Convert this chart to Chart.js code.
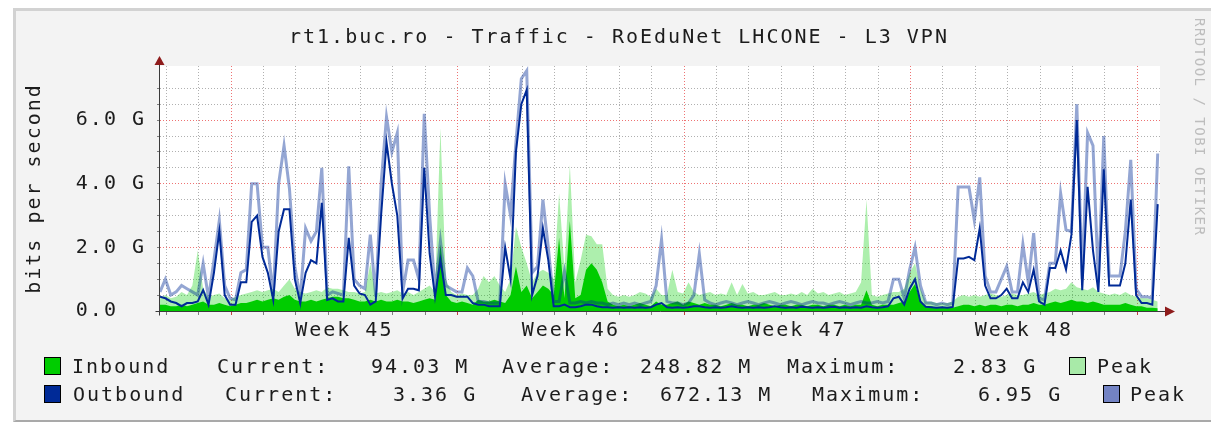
<!DOCTYPE html>
<html>
<head>
<meta charset="utf-8">
<style>
  body { margin: 0; background: #ffffff; width: 1211px; height: 422px; overflow: hidden; position: relative; }
  #frame { position: absolute; left: 13px; top: 8px; width: 1200px; height: 409px;
           background: #f3f3f3; border-left: 3px solid #d2d2d2; border-top: 3px solid #d2d2d2;
           border-bottom: 2px solid #a9a9a9; }
  #c { position: absolute; left: 0; top: 0; }
  .txt { position: absolute; font: 20px "DejaVu Sans Mono", monospace; letter-spacing: 2px;
         color: #1c1c1c; white-space: pre; line-height: 20px; }
  .sw { position: absolute; width: 15px; height: 16px; border: 1px solid #000; }
  #wm { position: absolute; left: 1192px; top: 18px; writing-mode: vertical-rl;
        font: 14px "DejaVu Sans Mono", monospace; letter-spacing: 1.5px; color: #bdbdbd; white-space: pre; }
</style>
</head>
<body>
<div id="frame"></div>
<canvas id="c" width="1211" height="422"></canvas>

<div class="txt" style="left:289px; top:26px;">rt1.buc.ro - Traffic - RoEduNet LHCONE - L3 VPN</div>

<div class="sw" style="left:44px; top:357px; background:#00cc00;"></div>
<div class="txt" style="left:72px; top:356px;">Inbound</div>
<div class="txt" style="left:217px; top:356px;">Current:</div>
<div class="txt" style="left:371px; top:356px;">94.03 M</div>
<div class="txt" style="left:502px; top:356px;">Average:</div>
<div class="txt" style="left:640px; top:356px;">248.82 M</div>
<div class="txt" style="left:787px; top:356px;">Maximum:</div>
<div class="txt" style="left:953px; top:356px;">2.83 G</div>
<div class="sw" style="left:1069px; top:357px; background:#a8eaa8;"></div>
<div class="txt" style="left:1097px; top:356px;">Peak</div>

<div class="sw" style="left:44px; top:385px; background:#002a97;"></div>
<div class="txt" style="left:73px; top:384px;">Outbound</div>
<div class="txt" style="left:225px; top:384px;">Current:</div>
<div class="txt" style="left:393px; top:384px;">3.36 G</div>
<div class="txt" style="left:521px; top:384px;">Average:</div>
<div class="txt" style="left:660px; top:384px;">672.13 M</div>
<div class="txt" style="left:812px; top:384px;">Maximum:</div>
<div class="txt" style="left:978px; top:384px;">6.95 G</div>
<div class="sw" style="left:1103px; top:385px; background:#7383c4;"></div>
<div class="txt" style="left:1130px; top:384px;">Peak</div>

<div id="wm">RRDTOOL / TOBI OETIKER</div>

<script src="https://cdn.jsdelivr.net/npm/chart.js@4.4.1/dist/chart.umd.min.js"></script>
<script>
// one sample every 4 hours, values in Gbit/s
const STEP_HOURS = 4;
const SPAN_HOURS = 741.7;

const inboundAvg = [
  0.2, 0.2, 0.15, 0.15, 0.2, 0.15, 0.2, 0.25, 0.3, 0.2,
  0.2, 0.25, 0.2, 0.15, 0.2, 0.25, 0.25, 0.3, 0.35, 0.3,
  0.35, 0.4, 0.35, 0.45, 0.5, 0.35, 0.3, 0.3, 0.35, 0.3,
  0.35, 0.4, 0.45, 0.45, 0.4, 0.4, 0.35, 0.3, 0.3, 0.35,
  0.3, 0.35, 0.3, 0.3, 0.35, 0.3, 0.3, 0.25, 0.3, 0.35,
  0.4, 0.35, 2.1, 0.5, 0.3, 0.25, 0.3, 0.25, 0.2, 0.35,
  0.3, 0.3, 0.35, 0.3, 0.25, 0.5, 1.4, 0.6, 0.8, 0.4,
  0.6, 0.8, 0.7, 0.5, 2.3, 0.4, 2.83, 0.4, 0.5, 1.3,
  1.5, 1.3, 0.9, 0.3, 0.2, 0.15, 0.2, 0.15, 0.2, 0.25,
  0.2, 0.15, 0.3, 0.2, 0.2, 0.25, 0.3, 0.2, 0.3, 0.25,
  0.2, 0.25, 0.2, 0.2, 0.15, 0.2, 0.25, 0.2, 0.2, 0.15,
  0.2, 0.2, 0.25, 0.2, 0.15, 0.2, 0.2, 0.15, 0.2, 0.2,
  0.15, 0.2, 0.2, 0.15, 0.2, 0.2, 0.15, 0.2, 0.15, 0.2,
  0.2, 0.65, 0.2, 0.15, 0.2, 0.2, 0.2, 0.25, 0.3, 0.6,
  0.85, 0.3, 0.15, 0.15, 0.1, 0.1, 0.1, 0.1, 0.15, 0.2,
  0.2, 0.15, 0.2, 0.15, 0.2, 0.2, 0.15, 0.2, 0.2, 0.15,
  0.2, 0.2, 0.25, 0.2, 0.2, 0.25, 0.3, 0.25, 0.3, 0.35,
  0.3, 0.3, 0.25, 0.3, 0.25, 0.2, 0.2, 0.2, 0.2, 0.25,
  0.2, 0.15, 0.15, 0.1, 0.1, 0.09
];

const inboundPeak = [
  0.4, 0.5, 0.4, 0.45, 0.6, 0.5, 0.8, 1.9, 0.7, 0.45,
  0.5, 0.55, 0.4, 0.35, 0.45, 0.5, 0.55, 0.6, 0.65, 0.6,
  0.65, 0.7, 0.6, 0.8, 1.0, 0.7, 0.6, 0.55, 0.6, 0.65,
  0.6, 0.75, 0.7, 0.7, 0.65, 0.6, 0.6, 0.55, 0.6, 1.5,
  0.55, 0.6, 0.55, 0.6, 0.65, 0.55, 0.6, 0.5, 0.6, 0.7,
  0.8, 0.6, 5.75, 1.0, 0.6, 0.5, 0.55, 0.5, 0.5, 0.7,
  1.1, 0.9, 1.1, 0.8, 0.6, 1.0, 2.65, 2.0, 1.5, 0.9,
  1.2, 1.3, 1.2, 1.0, 3.7, 1.3, 4.6, 0.9, 1.6, 2.4,
  2.35, 2.1, 2.1, 0.7, 0.5, 0.45, 0.5, 0.45, 0.5, 0.6,
  0.55, 0.45, 0.7, 0.5, 0.5, 1.3, 0.6, 0.55, 0.9, 0.6,
  0.5, 0.55, 0.6, 0.5, 0.55, 0.5, 0.9, 0.5, 0.85, 0.55,
  0.6, 0.5, 0.5, 0.55, 0.6, 0.5, 0.5, 0.55, 0.5, 0.6,
  0.5, 0.7, 0.55, 0.6, 0.5, 0.55, 0.6, 0.5, 0.55, 0.6,
  0.9, 3.5, 0.5, 0.45, 0.5, 0.55, 0.6, 0.6, 0.7, 1.2,
  1.5, 0.7, 0.3, 0.3, 0.25, 0.25, 0.25, 0.3, 0.45, 0.5,
  0.45, 0.5, 0.45, 0.5, 0.55, 0.5, 0.45, 0.5, 0.55, 0.5,
  0.5, 0.55, 0.6, 0.5, 0.55, 0.6, 0.7, 0.65, 0.7, 0.9,
  0.75, 0.7, 0.65, 0.75, 0.6, 0.55, 0.5, 0.55, 0.5, 0.6,
  0.5, 0.45, 0.4, 0.4, 0.35, 0.3
];

const outboundAvg = [
  0.45, 0.4, 0.3, 0.25, 0.15, 0.25, 0.25, 0.3, 0.66, 0.2,
  1.2, 2.5, 0.5, 0.2, 0.2, 0.9, 0.9, 2.8, 3.0, 1.7,
  1.2, 0.35, 2.5, 3.2, 3.2, 1.0, 0.25, 1.2, 1.6, 1.5,
  3.4, 0.35, 0.4, 0.3, 0.3, 2.3, 0.8, 0.55, 0.5, 0.2,
  0.3, 3.0, 5.3, 4.0, 3.0, 0.4, 0.7, 0.7, 0.65, 4.5,
  1.8, 0.45, 1.6, 0.5, 0.5, 0.45, 0.45, 0.45, 0.25, 0.2,
  0.2, 0.15, 0.15, 0.15, 2.0, 1.0, 5.0, 6.5, 6.95, 0.5,
  1.1, 2.6, 1.6, 0.15, 0.15, 0.2, 0.12, 0.12, 0.15, 0.2,
  0.2, 0.15, 0.12, 0.12, 0.1, 0.12, 0.1, 0.12, 0.1, 0.12,
  0.1, 0.12, 0.2, 0.25, 0.12, 0.1, 0.12, 0.1, 0.12, 0.15,
  0.15, 0.12, 0.1, 0.12, 0.1, 0.12, 0.15, 0.12, 0.1, 0.12,
  0.1, 0.12, 0.1, 0.12, 0.15, 0.12, 0.1, 0.12, 0.1, 0.13,
  0.12, 0.1, 0.12, 0.1, 0.12, 0.13, 0.1, 0.12, 0.1, 0.12,
  0.1, 0.15, 0.12, 0.1, 0.12, 0.15, 0.4, 0.45, 0.2, 0.7,
  1.0, 0.3, 0.13, 0.12, 0.1, 0.12, 0.1, 0.13, 1.65, 1.65,
  1.7, 1.6, 2.6, 0.8, 0.4, 0.4, 0.5, 0.7, 0.4, 0.4,
  0.9, 0.6, 1.3, 0.3, 0.2, 1.35, 1.35, 1.9, 1.3, 2.4,
  6.0, 0.65, 3.9, 1.9, 0.6, 4.45, 0.8, 0.8, 0.8, 1.5,
  3.5, 0.5, 0.25, 0.25, 0.2, 3.36
];

const outboundPeak = [
  0.6, 1.0, 0.5, 0.6, 0.8, 0.7, 0.6, 0.5, 1.5, 0.4,
  1.6, 2.85, 0.8, 0.4, 0.35, 1.2, 1.3, 4.0, 4.0, 2.0,
  2.0, 0.5, 4.0, 5.2, 3.85, 1.4, 0.4, 2.6, 2.2, 2.5,
  4.5, 0.5, 0.6, 0.55, 0.5, 4.55, 1.0, 0.8, 0.7, 2.4,
  0.45, 4.0, 6.1, 5.0, 5.6, 0.6, 1.6, 1.6, 1.0, 6.2,
  3.0, 0.6, 2.2, 0.8, 0.7, 0.6, 0.6, 1.35, 1.1, 0.3,
  0.3, 0.25, 0.25, 0.25, 4.0, 3.0, 5.3, 7.3, 7.55, 1.2,
  1.4, 3.5, 2.0, 0.3, 0.3, 1.25, 0.25, 0.25, 0.3, 0.25,
  0.3, 0.25, 0.25, 0.2, 0.25, 0.2, 0.25, 0.2, 0.25, 0.2,
  0.25, 0.3, 0.8, 2.25, 0.3, 0.25, 0.25, 0.2, 0.25, 0.5,
  1.8, 0.35, 0.25, 0.2, 0.25, 0.3, 0.25, 0.2, 0.25, 0.3,
  0.25, 0.2, 0.25, 0.3, 0.25, 0.2, 0.25, 0.3, 0.25, 0.2,
  0.25, 0.3, 0.25, 0.25, 0.2, 0.25, 0.3, 0.25, 0.2, 0.25,
  0.3, 0.25, 0.25, 0.3, 0.25, 0.3, 1.0, 1.0, 0.4, 1.3,
  2.0, 0.8, 0.25, 0.25, 0.2, 0.25, 0.2, 0.25, 3.9, 3.9,
  3.9, 2.85, 4.2, 1.1, 0.6, 0.6, 1.0, 1.4, 0.6, 0.6,
  2.1, 0.9, 2.45, 0.4, 0.35, 1.5, 1.5, 3.7, 2.55, 2.5,
  6.5, 1.0, 5.6, 5.2, 0.9, 5.5, 1.1, 1.1, 1.1, 2.5,
  4.75, 0.7, 0.45, 0.45, 0.4, 4.95
];

// x axis: day grid lines, red week lines, week labels centred in each week
const firstDayHour = 4.7;
const weekStartHours = [52.7, 220.7, 388.7, 556.7, 724.7];
const weekLabels = ['Week 45', 'Week 46', 'Week 47', 'Week 48'];

// y axis
const yMax = 7.7;
const yLabelEvery = 2;

const hours = outboundAvg.map((_, i) => i * STEP_HOURS);

const xTicks = [];
for (let h = firstDayHour; h <= SPAN_HOURS; h += 24) {
  const isWeek = weekStartHours.some(w => Math.abs(w - h) < 0.01);
  xTicks.push({ value: h, kind: isWeek ? 'week' : 'day' });
}
weekLabels.forEach((label, i) => {
  xTicks.push({ value: (weekStartHours[i] + weekStartHours[i + 1]) / 2, kind: 'label', text: label });
});
xTicks.sort((a, b) => a.value - b.value);

const MONO = "'DejaVu Sans Mono', monospace";
const RED_GRID = 'rgba(235, 90, 90, 0.85)';
const GRAY_GRID = 'rgba(150, 150, 150, 0.75)';

const plotBg = {
  id: 'plotBg',
  beforeDraw(chart) {
    const { ctx, chartArea: a } = chart;
    ctx.save();
    ctx.fillStyle = '#ffffff';
    ctx.fillRect(a.left, a.top, a.right - a.left, a.bottom - a.top);
    ctx.restore();
    ctx.letterSpacing = '2px';
  }
};

const arrows = {
  id: 'arrows',
  afterDatasetsDraw(chart) {
    const { ctx, chartArea: a, scales: { y } } = chart;
    const y0 = Math.round(y.getPixelForValue(0)) + 0.5;
    const x0 = Math.round(a.left) - 0.5;
    ctx.save();
    ctx.strokeStyle = '#3a3a3a';
    ctx.lineWidth = 1;
    ctx.beginPath();
    ctx.moveTo(x0, y0 + 4);
    ctx.lineTo(x0, a.top - 2);
    ctx.moveTo(x0 - 4, y0);
    ctx.lineTo(a.right + 5, y0);
    ctx.stroke();
    ctx.fillStyle = '#8e1b1b';
    ctx.beginPath();
    ctx.moveTo(x0, a.top - 10);
    ctx.lineTo(x0 - 5, a.top - 1);
    ctx.lineTo(x0 + 5, a.top - 1);
    ctx.closePath();
    ctx.fill();
    ctx.beginPath();
    ctx.moveTo(a.right + 15, y0);
    ctx.lineTo(a.right + 5, y0 - 5);
    ctx.lineTo(a.right + 5, y0 + 5);
    ctx.closePath();
    ctx.fill();
    ctx.restore();
  }
};

new Chart(document.getElementById('c'), {
  type: 'line',
  data: {
    labels: hours,
    datasets: [
      { label: 'Outbound', data: outboundAvg, borderColor: '#002a97', borderWidth: 2, order: 1, fill: false },
      { label: 'Outbound peak', data: outboundPeak, borderColor: 'rgba(0, 42, 151, 0.42)', borderWidth: 3, order: 2, fill: false },
      { label: 'Inbound', data: inboundAvg, borderWidth: 0, backgroundColor: '#00cc00', order: 3, fill: 'origin' },
      { label: 'Inbound peak', data: inboundPeak, borderWidth: 0, backgroundColor: 'rgba(0, 204, 0, 0.32)', order: 4, fill: 'origin' }
    ]
  },
  options: {
    responsive: false,
    animation: false,
    devicePixelRatio: 1,
    elements: { point: { radius: 0 }, line: { tension: 0 } },
    layout: { padding: { left: 0, right: 51, top: 66, bottom: 71 } },
    plugins: { legend: { display: false }, tooltip: { enabled: false } },
    scales: {
      x: {
        type: 'linear',
        min: 0,
        max: SPAN_HOURS,
        afterBuildTicks: s => { s.ticks = xTicks.map(t => ({ ...t })); },
        afterFit: s => { s.height = 40; },
        grid: {
          color: c => c.tick.kind === 'week' ? RED_GRID : c.tick.kind === 'day' ? GRAY_GRID : 'transparent',
          tickColor: c => c.tick.kind === 'label' ? 'transparent' : (c.tick.kind === 'week' ? '#c04040' : '#808080'),
          tickLength: 4
        },
        border: { display: false, dash: [1, 2] },
        ticks: {
          autoSkip: false,
          maxRotation: 0,
          padding: 4,
          color: '#1c1c1c',
          font: { family: MONO, size: 20 },
          callback: (v, i, ticks) => ticks[i].kind === 'label' ? ticks[i].text : ''
        }
      },
      y: {
        min: 0,
        max: yMax,
        afterBuildTicks: s => { s.ticks = s.ticks.filter(t => t.value <= 7.5 + 1e-9); },
        afterFit: s => { s.width = 160; },
        title: {
          display: true,
          text: 'bits per second',
          color: '#1c1c1c',
          font: { family: MONO, size: 20 },
          padding: { top: 23, bottom: 0 }
        },
        grid: {
          color: c => c.tick.value === 0 ? 'transparent' : (c.tick.value % yLabelEvery === 0 ? RED_GRID : GRAY_GRID),
          tickColor: '#808080',
          tickLength: 3
        },
        border: { display: false, dash: [1, 2] },
        ticks: {
          stepSize: 0.5,
          autoSkip: false,
          padding: 11,
          color: '#1c1c1c',
          font: { family: MONO, size: 20 },
          callback: v => v % yLabelEvery !== 0 ? '' : (v === 0 ? '0.0  ' : v.toFixed(1) + ' G')
        }
      }
    }
  },
  plugins: [plotBg, arrows]
});
</script>
</body>
</html>
